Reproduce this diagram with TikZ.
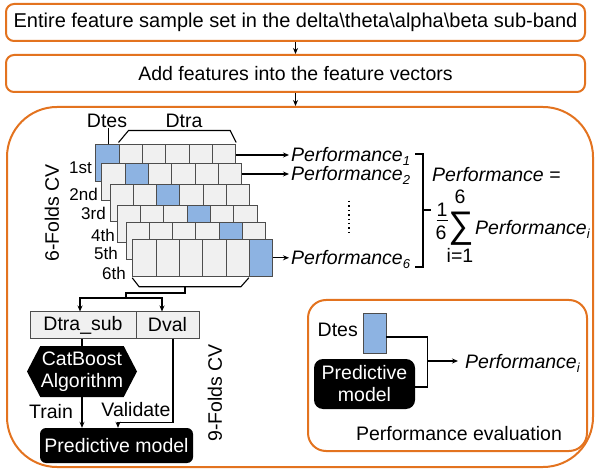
\documentclass[tikz,border=0pt]{standalone}
\usepackage{fontspec}
\setmainfont{Liberation Sans}
\usetikzlibrary{arrows.meta,shapes.symbols}
\definecolor{orng}{HTML}{E3731F}
\definecolor{cellblue}{HTML}{8DB3E2}
\definecolor{cellgray}{HTML}{F0F0F0}
\definecolor{edgegray}{HTML}{4D4D4D}
\newcommand\perfsub[1]{\textit{Performance}\raisebox{-4pt}{\fontsize{13}{13}\selectfont\itshape #1}}
\begin{document}
\begin{tikzpicture}[x=1pt,y=-1pt,
  txt/.style={font=\fontsize{19.5}{22}\selectfont, inner sep=0pt},
  lbl/.style={font=\fontsize{17}{19}\selectfont, inner sep=0pt},
  obox/.style={draw=orng, line width=2pt, rounded corners=8pt, fill=white},
  cellg/.style={draw=edgegray, fill=cellgray, line width=1pt, minimum width=23.33pt, minimum height=37pt, inner sep=0pt},
  cellb/.style={cellg, fill=cellblue},
  arr/.style={-{Stealth[length=6pt,width=5pt]}, line width=1.1pt},
  ln/.style={line width=1.1pt},
  blk/.style={fill=black, text=white, rounded corners=6pt, inner sep=0pt}
]
\useasboundingbox (0,0) rectangle (597,470);

% top boxes
\node[obox, inner sep=0pt, font=\fontsize{20}{22}\selectfont, minimum width=579pt, minimum height=37pt] (b1) at (295.5,22.5)
  {Entire feature sample set in the delta\textbackslash theta\textbackslash alpha\textbackslash beta sub-band};
\node[obox, txt, minimum width=579pt, minimum height=37pt] (b2) at (295.5,73.5) {Add features into the feature vectors};
\node[draw=orng, line width=2pt, rounded corners=50pt, minimum width=586pt, minimum height=360pt] (big) at (300,287) {};
\draw[arr] (b1.south) -- (b2.north);
\draw[arr] (b2.south) -- (b2.south |- big.north);

% folds
\foreach \i/\L/\T in {1/95.7/145, 2/101.7/164, 3/110/184.3, 4/117.3/206, 5/126/222.7, 6/132.7/239.3} {
  \foreach \j in {1,...,6} {
    \ifnum\i=\j
      \node[cellb] (r\i-\j) at ({\L+(\j-0.5)*23.33},{\T+18.5}) {};
    \else
      \node[cellg] (r\i-\j) at ({\L+(\j-0.5)*23.33},{\T+18.5}) {};
    \fi
  }
}
\node[lbl, anchor=east] (l1) at (92,168) {1st};
\node[lbl, anchor=east] (l2) at (98,194) {2nd};
\node[lbl, anchor=east] (l3) at (106,213) {3rd};
\node[lbl, anchor=east] (l4) at (115,235) {4th};
\node[lbl, anchor=east] (l5) at (118,253) {5th};
\node[lbl, anchor=east] (l6) at (126,273) {6th};

\node[txt] (dtes1) at (107,121) {Dtes};
\node[txt] (dtra) at (184,121) {Dtra};
\draw[ln] ([xshift=1.5pt]r1-1.north) -- ([xshift=1.5pt]r1-1.north |- dtes1.south);
\draw[ln] ([yshift=2pt]r1-2.north west) -- ([shift={(10pt,14pt)}]r1-2.north west)
  -- ([shift={(-6pt,14pt)}]r1-6.north east) -- ([yshift=2pt]r1-6.north east);
\draw[ln] ([yshift=-1pt]r6-1.south west) -- ([shift={(7pt,-10pt)}]r6-1.south west)
  -- ([shift={(-9pt,-10pt)}]r6-5.south east) -- ([shift={(-1pt,-1pt)}]r6-5.south east);

\node[txt, rotate=90] (sixcv) at (52,213) {6-Folds CV};

% performance outputs
\node[txt, anchor=base west] (p1) at (291,162) {\perfsub{1}};
\node[txt, anchor=base west] (p2) at (291,181) {\perfsub{2}};
\node[txt, anchor=base west] (p6) at (291,265) {\perfsub{6}};
\draw[arr, shorten >=2pt] ([yshift=8.5pt]r1-6.east) -- ([yshift=8.5pt]r1-6.east -| p1.west);
\draw[arr, shorten >=2pt] ([yshift=8.5pt]r2-6.east) -- ([yshift=8.5pt]r2-6.east -| p2.west);
\draw[arr, shorten >=2pt] (r6-6.east) -- (r6-6.east -| p6.west);
\coordinate (dtop) at (349,201);
\coordinate (dbot) at (349,233);
\draw[line width=1.6pt, dash pattern=on 1.4pt off 3pt] (dtop) -- (dbot);

% bracket and formula
\coordinate (bk1) at (415,154);
\coordinate (bk2) at (415,267);
\draw[ln] (bk1) -- ++(8,0) -- ++(0,113) -- (bk2);
\draw[ln] (423,210) -- ++(8,0);
\node[txt, anchor=base west] (peq) at (432,182) {\textit{Performance} =};
\node[txt] (fn) at (442,210) {1};
\node[txt] (fd) at (441,233) {6};
\draw[line width=0.9pt] (436.5,220) -- (447.5,220);
\node[inner sep=0pt, font=\fontsize{37}{37}\selectfont, xscale=0.95] (sig) at (461,229) {∑};
\node[txt] (sup6) at (460,197) {6};
\node[txt] (sub1) at (460,255) {i=1};
\node[txt, anchor=base west] (pi) at (475,235) {\perfsub{i}};

% inner CV
\coordinate (bt) at (185,287);
\coordinate (fork) at (126,298);
\node[draw=edgegray, fill=cellgray, line width=1pt, minimum width=106pt, minimum height=26pt, txt] (dsub) at (83,325) {Dtra\_sub};
\node[draw=edgegray, fill=cellgray, line width=1pt, minimum width=63pt, minimum height=26pt, txt] (dval) at (167.5,325) {Dval};
\draw[ln] (bt) -- ++(0,6) -| (fork);
\draw[arr] (fork) -| ([xshift=-3pt]dsub.north);
\draw[arr] (fork) -| ([xshift=-5.5pt]dval.north);

\node[signal, signal to=west and east, signal pointer angle=125, fill=black, text=white,
  minimum width=110pt, minimum height=51pt, align=center, txt] (cat) at (82,371.5) {CatBoost\\Algorithm};
\draw[ln] (cat.north) -- (cat.north |- dsub.south);
\node[blk, txt, minimum width=153pt, minimum height=35pt] (pm) at (116.5,445.5) {Predictive model};
\draw[arr] (cat.south) -- (cat.south |- pm.north);
\node[txt] (train) at (51,412) {Train};
\node[txt] (valid) at (136,410) {Validate};
\draw[arr] ([xshift=5.5pt]dval.south) -- ++(0,84) -| ([xshift=1.5pt]pm.north);
\node[txt, rotate=90] (ninecv) at (215,393) {9-Folds CV};

% performance evaluation
\node[draw=orng, line width=2pt, rounded corners=18pt, minimum width=279pt, minimum height=151pt] (evalbox) at (447.5,375.5) {};
\node[txt, anchor=east] (dtes2) at (358,330) {Dtes};
\node[fill=cellblue, draw=edgegray, line width=0.6pt, minimum width=23pt, minimum height=40pt, inner sep=0pt] (tb) at (374.5,333) {};
\node[blk, txt, align=center, rounded corners=9pt, minimum width=101pt, minimum height=50pt] (pm2) at (364.5,384) {Predictive\\model};
\draw[ln] ([yshift=-4pt]tb.east) -- ++(41,0) |- ([yshift=-3pt]pm2.east);
\coordinate (jn) at (427,361);
\node[txt, anchor=base west] (pi2) at (465,368) {\perfsub{i}};
\draw[arr, shorten >=7pt] (jn) -- (jn -| pi2.west);
\node[txt] (pe) at (459,434) {Performance evaluation};
\end{tikzpicture}
\end{document}
